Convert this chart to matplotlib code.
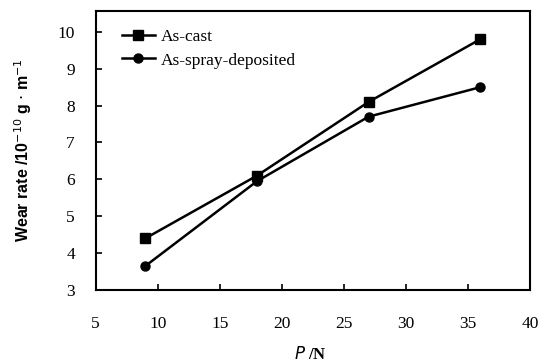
import matplotlib
matplotlib.use('Agg')
import matplotlib.pyplot as plt

# load values (N) and wear rates
load = [9, 18, 27, 36]
as_cast = [4.4, 6.1, 8.1, 9.8]
as_spray = [3.65, 5.95, 7.7, 8.5]

x_ticks = [5, 10, 15, 20, 25, 30, 35, 40]
y_ticks = [3, 4, 5, 6, 7, 8, 9, 10]

plt.rcParams['font.family'] = ['Liberation Serif', 'DejaVu Serif']

fig = plt.figure(figsize=(5.44, 3.62), dpi=100)
ax = fig.add_axes([0.176, 0.199, 0.798, 0.771])

ax.plot(load, as_cast, color='black', lw=1.8, marker='s', ms=6.5, label='As-cast')
ax.plot(load, as_spray, color='black', lw=1.8, marker='o', ms=6.5, label='As-spray-deposited')

ax.set_xlim(5, 40)
ax.set_ylim(3, 10.57)
ax.set_xticks(x_ticks)
ax.set_yticks(y_ticks)
ax.tick_params(direction='in', length=4, width=1.2, labelsize=12.5,
               top=False, right=False)
ax.tick_params(axis='y', pad=15)
ax.tick_params(axis='x', pad=19)
for s in ax.spines.values():
    s.set_linewidth(1.5)

ax.set_xlabel(r'$\mathit{P}$ /N', fontsize=12, fontweight='bold')
ax.set_ylabel(r'Wear rate /10$^{-10}$ g $\cdot$ m$^{-1}$', fontsize=11.5,
              fontweight='bold', family='Liberation Sans', labelpad=17)
ax.xaxis.set_label_coords(0.495, -0.2)

leg = ax.legend(loc='upper left', frameon=False, fontsize=12.5,
                handlelength=1.9, handletextpad=0.35, labelspacing=0.42,
                borderaxespad=0.0, bbox_to_anchor=(0.044, 0.96))

fig.savefig('out.png', dpi=100)
